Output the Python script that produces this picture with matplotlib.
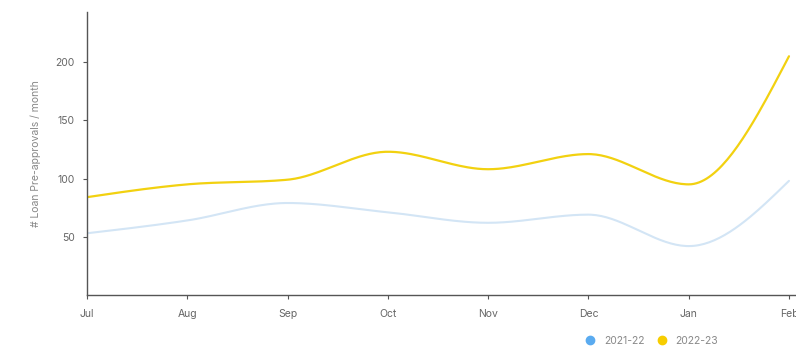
import numpy as np
import matplotlib
matplotlib.use("Agg")
import matplotlib.pyplot as plt
from matplotlib.lines import Line2D

months = ["Jul", "Aug", "Sep", "Oct", "Nov", "Dec", "Jan", "Feb"]
series_2122 = [53, 64, 79, 71, 62, 69, 42, 98]
series_2223 = [84, 95, 99, 123, 108, 121, 95, 205]
y_ticks = [50, 100, 150, 200]


def monotone_x(x, y, n=40):
    x = np.asarray(x, float); y = np.asarray(y, float)
    h = np.diff(x); s = np.diff(y) / h
    m = np.zeros_like(y)
    for i in range(1, len(y) - 1):
        if s[i - 1] * s[i] <= 0:
            m[i] = 0
        else:
            p = (s[i - 1] * h[i] + s[i] * h[i - 1]) / (h[i - 1] + h[i])
            m[i] = (np.sign(s[i - 1]) + np.sign(s[i])) * min(abs(s[i - 1]), abs(s[i]), 0.5 * abs(p))
    m[0] = (3 * s[0] - m[1]) / 2
    m[-1] = (3 * s[-1] - m[-2]) / 2
    xs, ys = [], []
    for i in range(len(x) - 1):
        t = np.linspace(0, 1, n)
        h00 = 2 * t**3 - 3 * t**2 + 1
        h10 = t**3 - 2 * t**2 + t
        h01 = -2 * t**3 + 3 * t**2
        h11 = t**3 - t**2
        xs.append(x[i] + t * h[i])
        ys.append(h00 * y[i] + h10 * h[i] * m[i] + h01 * y[i + 1] + h11 * h[i] * m[i + 1])
    return np.concatenate(xs), np.concatenate(ys)


plt.rcParams['font.family'] = ['Inter', 'DejaVu Sans']
W, H = 796, 353
fig = plt.figure(figsize=(W / 100, H / 100), dpi=100)
ax = fig.add_axes([87 / W, 1 - 295 / H, 1 - 87 / W, (295 - 12) / H])

x = np.arange(len(months))
bx, by = monotone_x(x, series_2122)
yx, yy = monotone_x(x, series_2223)
ax.plot(bx, by, color="#d3e5f5", lw=1.5, solid_capstyle='round')
ax.plot(yx, yy, color="#f2d110", lw=1.6, solid_capstyle='round')

ax.set_xlim(0, 7.07)
ax.set_ylim(0, 243)
ax.set_xticks(x)
ax.set_xticklabels(months)
ax.set_yticks(y_ticks)
ax.tick_params(axis='both', labelsize=7.5, colors="#555555", labelcolor="#666666",
               length=3, width=0.8, pad=6)
ax.tick_params(axis='x', pad=7)
for sp in ['top', 'right']:
    ax.spines[sp].set_visible(False)
for sp in ['left', 'bottom']:
    ax.spines[sp].set_color("#555555")
    ax.spines[sp].set_linewidth(1.0)
ax.set_ylabel("# Loan Pre-approvals / month", fontsize=7.5, color="#888888", labelpad=10)

handles = [Line2D([], [], marker='o', ls='', color="#5aabf0", markersize=6),
           Line2D([], [], marker='o', ls='', color="#f7cd00", markersize=6)]
fig.legend(handles, ["2021-22", "2022-23"], loc='center left',
           bbox_to_anchor=(584 / W, 1 - 341 / H), ncol=2, frameon=False,
           fontsize=7.5, labelcolor="#888888", handletextpad=0.7, columnspacing=1.1,
           borderaxespad=0, borderpad=0, handlelength=1.2)

fig.savefig("out.png", dpi=100)
